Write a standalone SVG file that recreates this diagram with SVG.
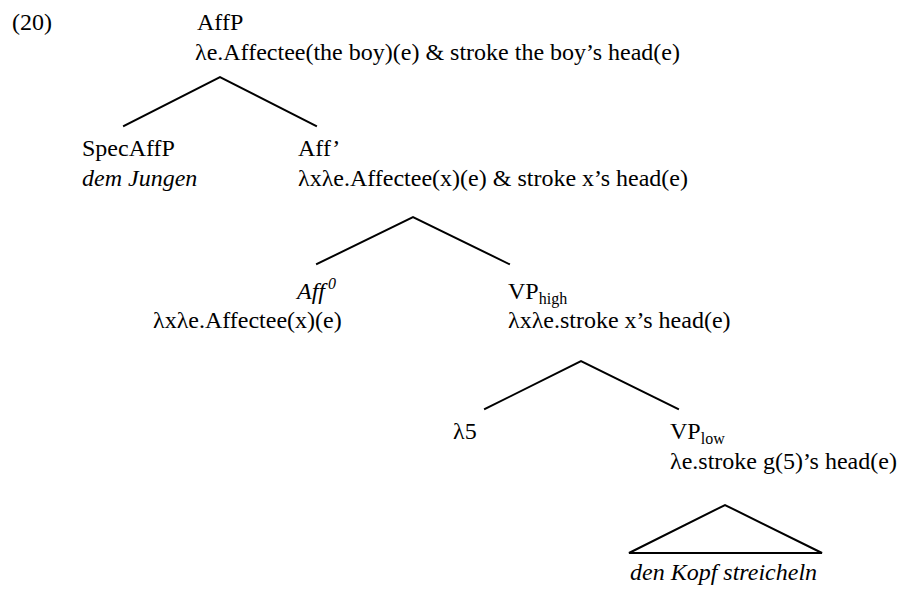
<svg xmlns="http://www.w3.org/2000/svg" width="901" height="591" viewBox="0 0 901 591">
<style>
text{font-family:"Liberation Serif","Times New Roman",serif;font-size:24px;fill:#000}
.it{font-style:italic}
.sm{font-size:16px}
.edge{stroke:#000;stroke-width:2;fill:none;stroke-linecap:square}
</style>
<rect width="901" height="591" fill="#fff"/>
<text x="12" y="30">(20)</text>
<g id="AffP">
<text x="197" y="30">AffP</text>
<text x="195" y="60">λe.Affectee(the boy)(e) &amp; stroke the boy’s head(e)</text>
</g>
<g id="SpecAffP">
<text x="82" y="156">SpecAffP</text>
<text x="82" y="186" class="it">dem Jungen</text>
</g>
<g id="AffBar">
<text x="298" y="156">Aff’</text>
<text x="298" y="186">λxλe.Affectee(x)(e) &amp; stroke x’s head(e)</text>
</g>
<g id="Aff0">
<text x="297" y="299" class="it">Aff<tspan class="sm" dx="3" dy="-10">0</tspan></text>
<text x="153" y="328">λxλe.Affectee(x)(e)</text>
</g>
<g id="VPhigh">
<text x="508" y="299">VP<tspan class="sm" dy="5">high</tspan></text>
<text x="508" y="328">λxλe.stroke x’s head(e)</text>
</g>
<g id="lambda5">
<text x="453" y="439">λ5</text>
</g>
<g id="VPlow">
<text x="670" y="439">VP<tspan class="sm" dy="5">low</tspan></text>
<text x="670" y="469">λe.stroke g(5)’s head(e)</text>
</g>
<g id="leaf">
<text x="630" y="580" class="it">den Kopf streicheln</text>
</g>
<g id="connectors">
<polyline class="edge" points="124,126 220,77 316,126"/>
<polyline class="edge" points="317,264 413,217 509,264"/>
<polyline class="edge" points="485,409 581,361 678,409"/>
<polygon class="edge" points="629,553 725,505 822,553"/>
</g>
</svg>
